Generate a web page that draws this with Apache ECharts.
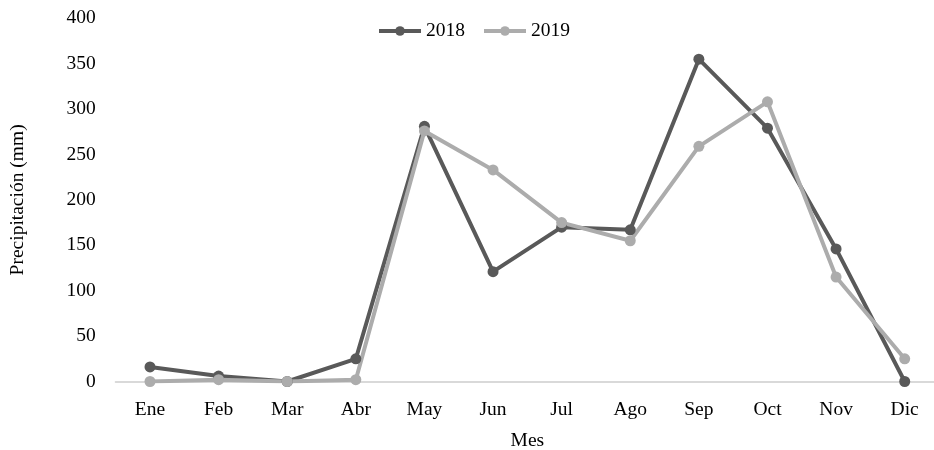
<!DOCTYPE html>
<html><head><meta charset="utf-8">
<script src="https://cdn.jsdelivr.net/npm/echarts@6/dist/echarts.min.js"></script>
<style>html,body{margin:0;padding:0;background:#fff}#c{width:934px;height:450px}</style>
</head><body><div id="c"></div>
<script>
const months = ['Ene','Feb','Mar','Abr','May','Jun','Jul','Ago','Sep','Oct','Nov','Dic'];
const s2018 = [16, 6, 0, 25, 281, 121, 170, 167, 355, 279, 146, 0];
const s2019 = [0, 2, 0, 2, 276, 233, 175, 155, 259, 308, 115, 25];
const yTicks = [0, 50, 100, 150, 200, 250, 300, 350, 400];
const font = 'Liberation Serif';
const fs = 19.5;
const chart = echarts.init(document.getElementById('c'));
chart.setOption({
  animation: false,
  textStyle: {fontFamily: font},
  legend: {
    top: 16, left: 372, itemWidth: 42, itemHeight: 12, itemGap: 17,
    lineStyle: {width: 4},
    textStyle: {fontFamily: font, fontSize: fs, color: '#000'},
    data: ['2018', '2019']
  },
  grid: {left: 115.7, right: -5, top: 18.3, bottom: 68.5, containLabel: false, outerBoundsMode: 'none'},
  xAxis: {
    type: 'category', data: months, boundaryGap: true,
    name: 'Mes', nameLocation: 'middle', nameGap: 49,
    nameTextStyle: {fontFamily: font, fontSize: fs, color: '#000'},
    axisLine: {lineStyle: {color: '#d9d9d9', width: 2}},
    axisTick: {show: false},
    axisLabel: {fontFamily: font, fontSize: fs, color: '#000', margin: 18}
  },
  yAxis: {
    type: 'value', min: yTicks[0], max: yTicks[yTicks.length-1], interval: 50,
    name: 'Precipitación (mm)', nameLocation: 'middle', nameGap: 88,
    nameTextStyle: {fontFamily: font, fontSize: fs, color: '#000'},
    axisLine: {show: false}, axisTick: {show: false}, splitLine: {show: false},
    axisLabel: {fontFamily: font, fontSize: fs, color: '#000', margin: 20}
  },
  series: [
    {name: '2018', type: 'line', data: s2018, symbol: 'circle', symbolSize: 11,
     lineStyle: {color: '#595959', width: 4}, itemStyle: {color: '#595959'}},
    {name: '2019', type: 'line', data: s2019, symbol: 'circle', symbolSize: 11,
     lineStyle: {color: '#acacac', width: 4}, itemStyle: {color: '#acacac'}}
  ]
});
</script></body></html>
